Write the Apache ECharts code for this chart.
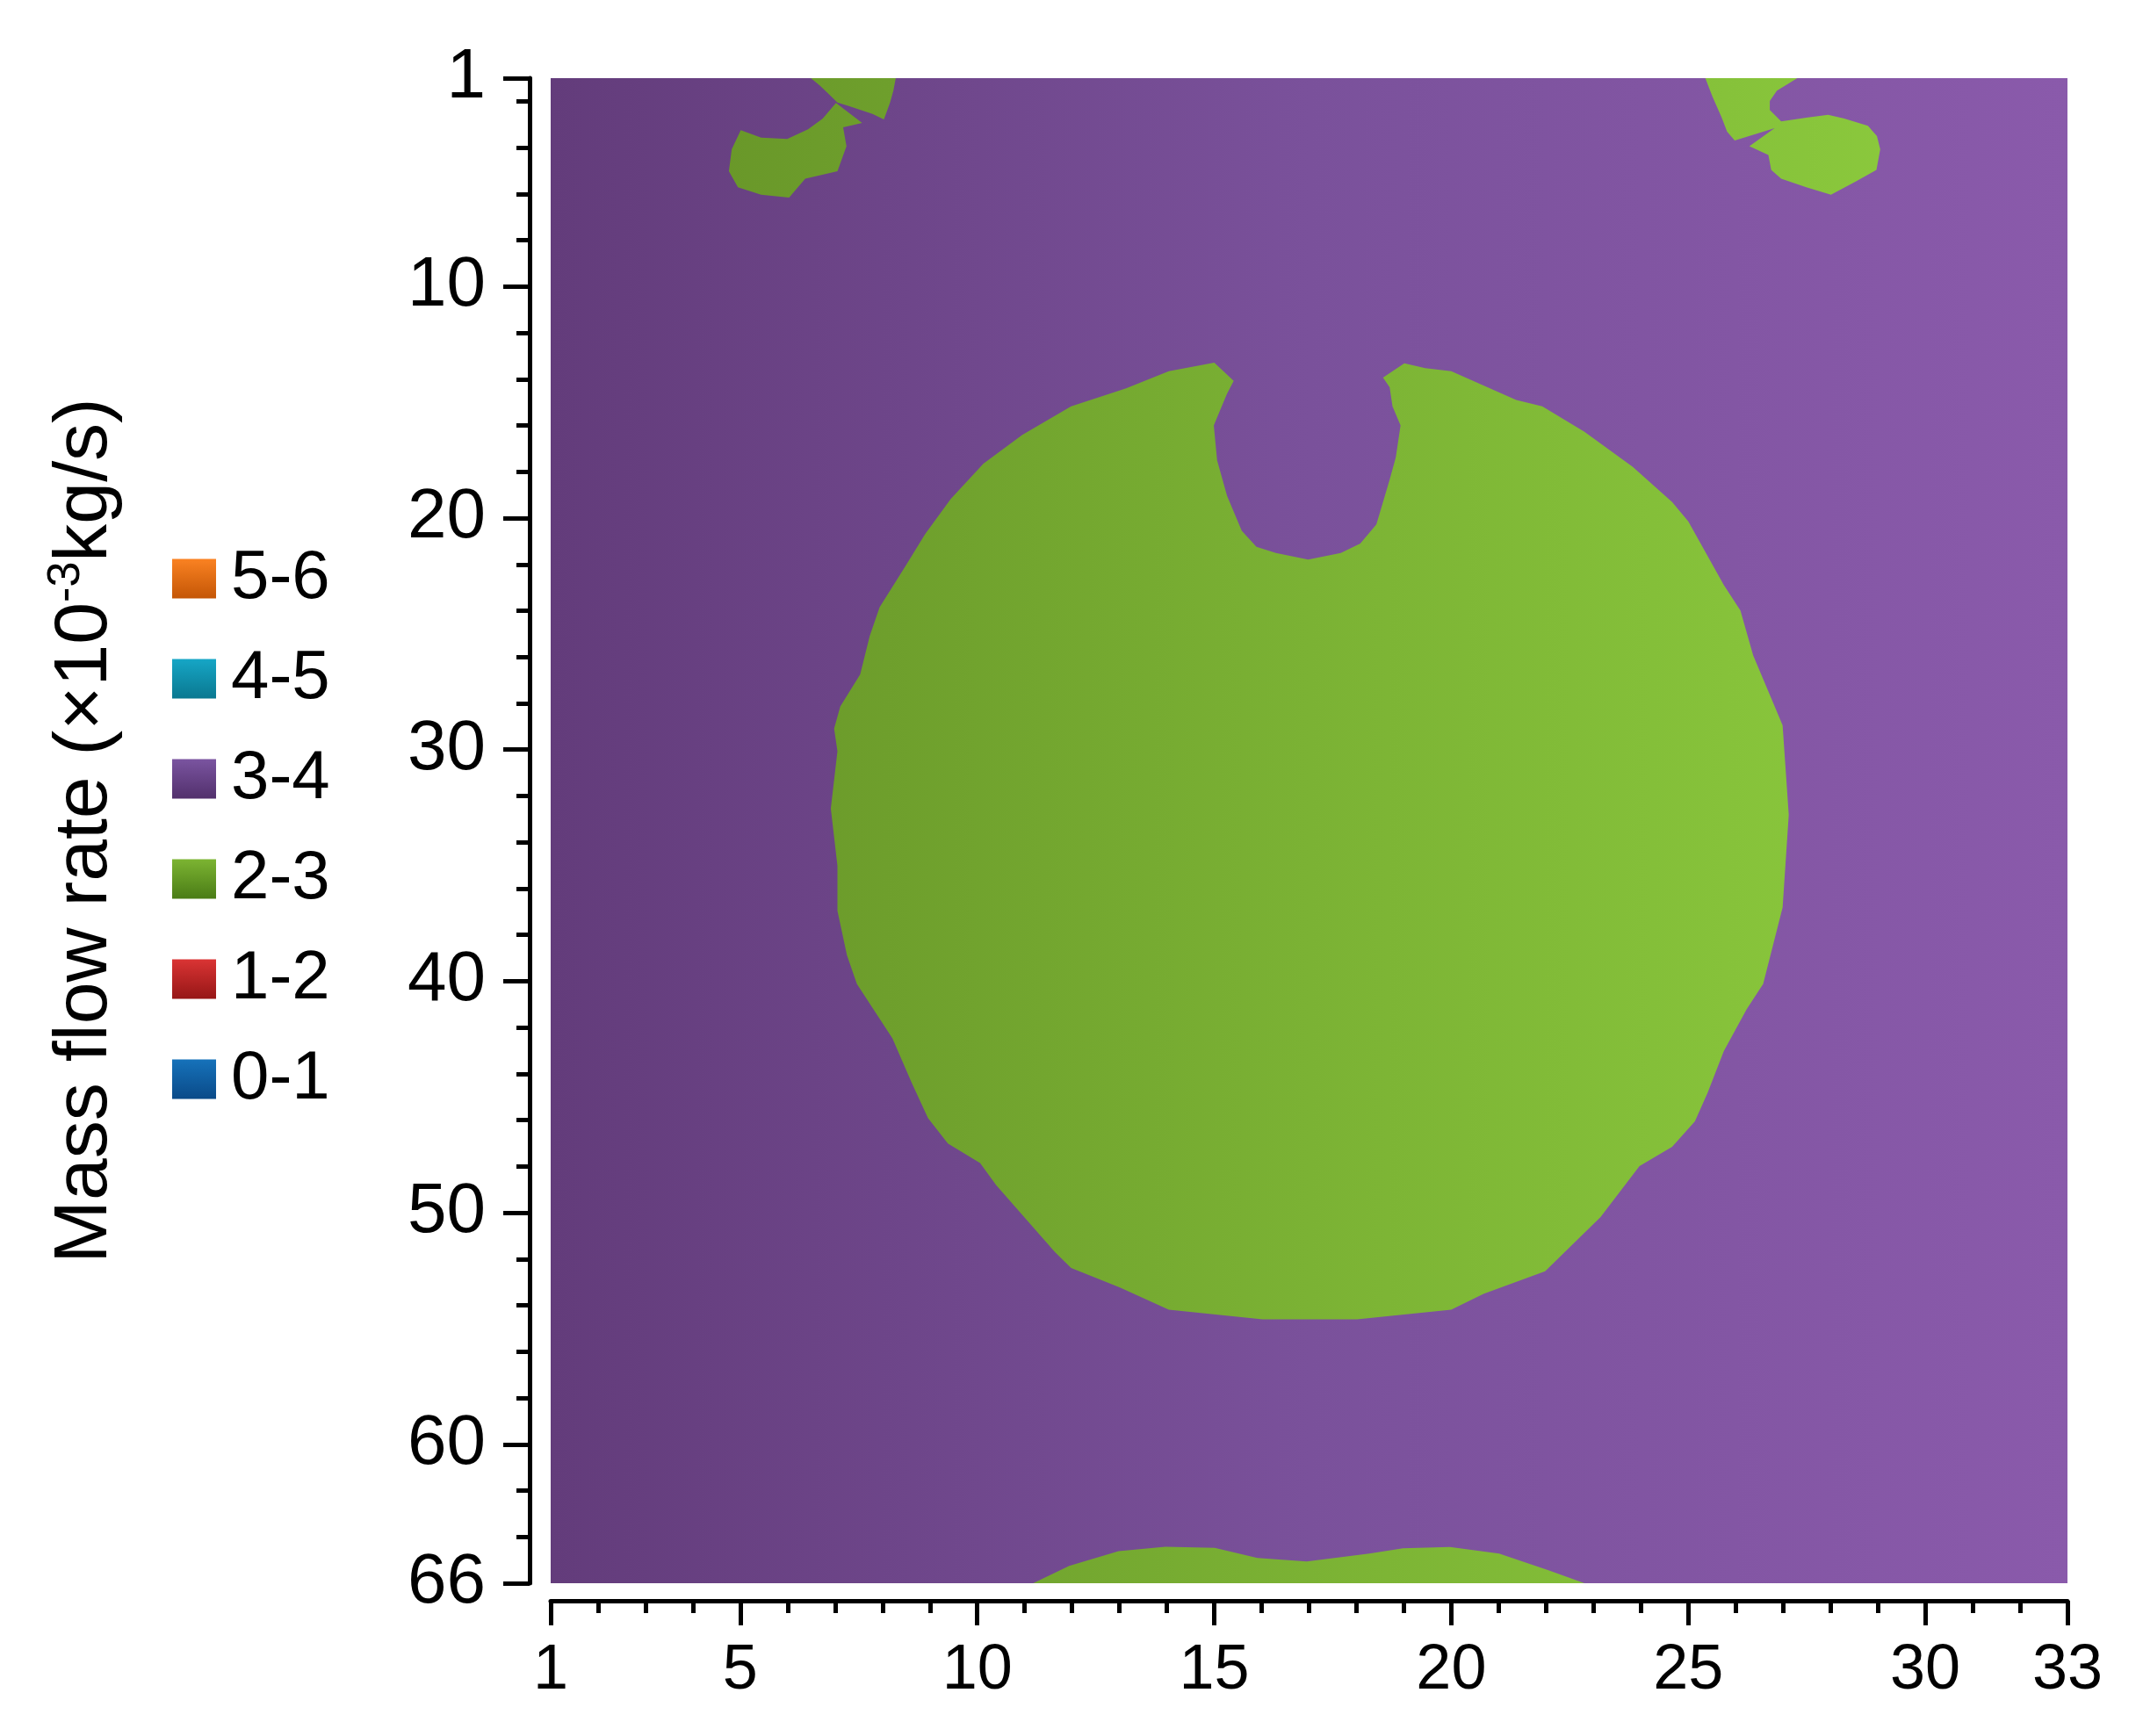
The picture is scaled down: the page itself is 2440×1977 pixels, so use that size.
<!DOCTYPE html>
<html>
<head>
<meta charset="utf-8">
<title>Mass flow rate map</title>
<script src="https://cdn.jsdelivr.net/npm/echarts@6/dist/echarts.min.js"></script>
<style>
  html, body { margin: 0; padding: 0; background: #fff; }
  #chart { width: 2440px; height: 1977px; }
</style>
</head>
<body>
<div id="chart"></div>
<script>
const FONT = "'Liberation Sans', Arial, sans-serif"

// legend classes, top to bottom
const classNames = ['5-6', '4-5', '3-4', '2-3', '1-2', '0-1']
const classTop = ['#fa8222', '#16a6c6', '#7a54a0', '#7cb432', '#da3434', '#1672ba']
const classBottom = ['#c45606', '#0a7890', '#52306c', '#4a7c16', '#961616', '#0a4a88']

const xTicks = [1, 5, 10, 15, 20, 25, 30, 33]
const xMinor = [1, 2, 3, 4, 5, 6, 7, 8, 9, 10, 11, 12, 13, 14, 15, 16, 17, 18, 19, 20, 21, 22, 23, 24, 25, 26, 27, 28, 29, 30, 31, 32, 33]
const yTicks = [1, 10, 20, 30, 40, 50, 60, 66]
const yMinor = [2, 4, 6, 8, 12, 14, 16, 18, 22, 24, 26, 28, 32, 34, 36, 38, 42, 44, 46, 48, 52, 54, 56, 58, 62, 64]

// 3-4 fills the whole field
const field34 = [[1, 1], [33, 1], [33, 66], [1, 66]]

// 2-3 regions, outlines as [column, row]
const mainBlob = [
  [15.0, 13.29], [14.04, 13.66], [13.14, 14.4], [11.98, 15.17], [10.95, 16.41], [10.13, 17.65],
  [9.44, 19.17], [8.9, 20.69], [8.49, 22.06], [7.94, 23.85], [7.73, 25.1], [7.53, 26.75],
  [7.11, 28.13], [6.98, 29.09], [7.05, 30.07], [6.91, 32.54], [7.05, 35.02], [7.05, 36.96],
  [7.25, 38.88], [7.46, 40.12], [8.21, 42.47], [8.62, 44.4], [8.96, 45.91], [9.38, 47.01],
  [10.06, 47.85], [10.4, 48.81], [11.64, 51.7], [11.98, 52.39], [13.01, 53.23], [14.04, 54.19],
  [16.02, 54.6], [18.01, 54.6], [20.0, 54.19], [20.68, 53.5], [21.98, 52.53], [23.15, 50.19],
  [23.97, 47.99], [24.66, 47.15], [25.14, 46.05], [25.41, 44.81], [25.75, 43.02], [26.23, 41.22],
  [26.58, 40.12], [26.99, 36.82], [27.12, 32.82], [26.99, 28.95], [26.71, 27.58], [26.37, 25.93],
  [26.1, 23.99], [25.75, 22.89], [25.0, 20.14], [24.66, 19.31], [23.83, 17.79], [22.81, 16.27],
  [21.92, 15.17], [21.37, 14.9], [20.0, 13.66], [19.45, 13.52], [19.01, 13.32], [18.56, 13.93],
  [18.7, 14.35], [18.76, 15.17], [18.93, 16.0], [18.83, 17.37], [18.7, 18.34], [18.42, 20.27],
  [18.08, 21.1], [17.67, 21.51], [16.98, 21.79], [16.3, 21.51], [15.89, 21.24], [15.58, 20.55],
  [15.27, 19.04], [15.06, 17.51], [14.99, 16.0], [15.13, 15.31], [15.27, 14.62], [15.41, 14.07]
]
const topLeftUpper = [
  [6.49, 1], [8.28, 1], [8.23, 1.54], [8.16, 2.05], [8.03, 2.78], [7.79, 2.55],
  [7.54, 2.37], [7.29, 2.2], [7.05, 2.05], [6.86, 1.67], [6.68, 1.32]
]
const topLeftLower = [
  [7.02, 2.07], [7.57, 2.93], [7.17, 3.12], [7.24, 3.94], [7.05, 5.02], [6.37, 5.34],
  [6.03, 6.16], [5.44, 6.03], [4.95, 5.71], [4.76, 5.02], [4.82, 4.07], [5.01, 3.25],
  [5.44, 3.57], [5.99, 3.63], [6.43, 3.21], [6.74, 2.74]
]
const topRight = [
  [25.36, 1], [27.3, 1], [27.12, 1.23], [26.87, 1.54], [26.72, 1.99], [26.72, 2.37],
  [26.96, 2.87], [27.49, 2.71], [27.95, 2.58], [28.29, 2.74], [28.79, 3.06], [28.98, 3.5],
  [29.05, 4.07], [28.97, 4.96], [28.54, 5.46], [28.01, 6.03], [27.49, 5.71], [26.96, 5.34],
  [26.75, 4.96], [26.69, 4.32], [26.29, 3.94], [26.82, 3.16], [25.98, 3.69], [25.82, 3.31],
  [25.7, 2.68], [25.51, 1.8]
]
const bottomBlob = [
  [11.18, 66], [11.94, 65.25], [12.98, 64.62], [13.97, 64.43], [15.01, 64.47], [15.91, 64.91],
  [16.95, 65.06], [18.27, 64.72], [18.98, 64.49], [19.97, 64.44], [21.01, 64.72], [22.05, 65.44],
  [22.81, 66]
]

const regions34 = [field34]
const regions23 = [mainBlob, topLeftUpper, topLeftLower, topRight, bottomBlob]

// plot shading runs left (dark) to right (light)
const purpleStops = ['#633c7b', '#7a519b', '#8a5aab']
const greenStops = ['#649026', '#7bb234', '#8fcf3f']

const chart = echarts.init(document.getElementById('chart'))

function regionSeries(name, regions, stops) {
  return {
    name: name,
    type: 'custom',
    coordinateSystem: 'cartesian2d',
    xAxisIndex: 0,
    yAxisIndex: 0,
    silent: true,
    data: regions.map(r => r[0]),
    renderItem: (params, api) => {
      const pts = regions[params.dataIndex].map(p => api.coord(p))
      const xa = api.coord([1, 1])[0]
      const xb = api.coord([33, 1])[0]
      return {
        type: 'polygon',
        shape: { points: pts },
        style: {
          fill: new echarts.graphic.LinearGradient(xa, 0, xb, 0, [
            { offset: 0, color: stops[0] },
            { offset: 0.5, color: stops[1] },
            { offset: 1, color: stops[2] },
          ], true),
        },
      }
    },
  }
}

function emptySeries(name) {
  return { name: name, type: 'custom', coordinateSystem: 'cartesian2d', data: [], renderItem: () => null }
}

const axisLineStyle = { color: '#000', width: 5 }

chart.setOption({
  animation: false,
  backgroundColor: '#fff',
  grid: {
    left: 627,
    right: 86,
    top: 89,
    bottom: 174,
    containLabel: false,
    outerBoundsMode: 'none',
  },
  legend: {
    orient: 'vertical',
    left: 196,
    top: 619,
    padding: 0,
    itemWidth: 50,
    itemHeight: 45,
    itemGap: 34,
    icon: 'rect',
    selectedMode: false,
    textStyle: {
      fontSize: 78,
      fontFamily: FONT,
      color: '#000',
      lineHeight: 80,
      padding: [0, 0, 0, 12],
    },
    data: classNames.map((n, i) => ({
      name: n,
      itemStyle: {
        color: new echarts.graphic.LinearGradient(0, 0, 0, 1, [
          { offset: 0, color: classTop[i] },
          { offset: 1, color: classBottom[i] },
        ]),
      },
    })),
  },
  xAxis: [
    {
      type: 'value',
      min: 1,
      max: 33,
      position: 'bottom',
      offset: 20,
      axisLine: { show: true, lineStyle: axisLineStyle },
      axisTick: { show: true, customValues: xTicks, length: 28, lineStyle: axisLineStyle },
      axisLabel: { customValues: xTicks, fontSize: 72, fontFamily: FONT, color: '#000', margin: 44 },
      splitLine: { show: false },
    },
    {
      type: 'value',
      min: 1,
      max: 33,
      position: 'bottom',
      offset: 20,
      axisLine: { show: false },
      axisTick: { show: true, customValues: xMinor, length: 14, lineStyle: axisLineStyle },
      axisLabel: { show: false },
      splitLine: { show: false },
    },
  ],
  yAxis: [
    {
      type: 'value',
      min: 1,
      max: 66,
      inverse: true,
      position: 'left',
      offset: 24,
      axisLine: { show: true, lineStyle: axisLineStyle },
      axisTick: { show: true, customValues: yTicks, length: 30, lineStyle: axisLineStyle },
      axisLabel: { customValues: yTicks, fontSize: 80, fontFamily: FONT, color: '#000', margin: 50 },
      splitLine: { show: false },
      name: '{t|Mass flow rate (×10}{s|-3}{t|kg/s)}',
      nameLocation: 'middle',
      nameGap: 458,
      nameTextStyle: {
        fontSize: 86,
        fontFamily: FONT,
        color: '#000',
        rich: {
          t: { fontSize: 86, fontFamily: FONT, color: '#000', lineHeight: 95 },
          s: { fontSize: 52, fontFamily: FONT, color: '#000', lineHeight: 60, verticalAlign: 'top' },
        },
      },
    },
    {
      type: 'value',
      min: 1,
      max: 66,
      inverse: true,
      position: 'left',
      offset: 24,
      axisLine: { show: false },
      axisTick: { show: true, customValues: yMinor, length: 15, lineStyle: axisLineStyle },
      axisLabel: { show: false },
      splitLine: { show: false },
    },
  ],
  series: [
    emptySeries('5-6'),
    emptySeries('4-5'),
    regionSeries('3-4', regions34, purpleStops),
    regionSeries('2-3', regions23, greenStops),
    emptySeries('1-2'),
    emptySeries('0-1'),
  ],
})
</script>
</body>
</html>
